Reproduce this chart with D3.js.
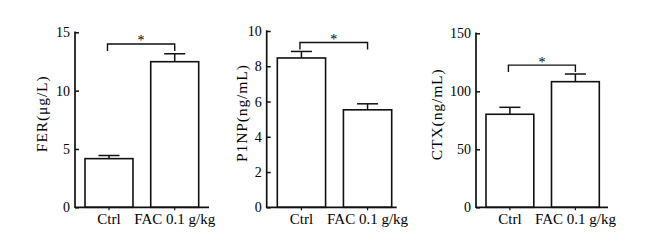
<!DOCTYPE html>
<html>
<head>
<meta charset="utf-8">
<script src="https://cdn.jsdelivr.net/npm/d3@7"></script>
<style>
  html, body { margin: 0; padding: 0; background: #fff; }
  svg { display: block; }
  text { font-family: "Liberation Serif", "DejaVu Serif", serif; fill: #000; }
</style>
</head>
<body>
<svg id="chart" width="662" height="241"></svg>
<script>
// ---- data ----
const categories = ["Ctrl", "FAC 0.1 g/kg"];
const ferMean  = [4.17, 12.48];
const ferErr   = [0.27, 0.68];
const p1npMean = [8.47, 5.53];
const p1npErr  = [0.37, 0.34];
const ctxMean  = [80.2, 108.3];
const ctxErr   = [6.0, 6.6];
const ferTicks  = [0, 5, 10, 15];
const p1npTicks = [0, 2, 4, 6, 8, 10];
const ctxTicks  = [0, 50, 100, 150];
const yLabels = ["FER(μg/L)", "P1NP(ng/mL)", "CTX(ng/mL)"];
const sigLevel = [14.0, 9.35, 122.6];
const sigMark = ["*", "*", "*"];

// ---- layout ----
const panels = [
  { mean: ferMean,  err: ferErr,  ticks: ferTicks,  max: 15,  label: yLabels[0], sig: sigLevel[0], mark: sigMark[0],
    axisX: 75,  axisEnd: 209, barRange: [85, 198.7],  yTop: 32.3, labelX: 47 },
  { mean: p1npMean, err: p1npErr, ticks: p1npTicks, max: 10,  label: yLabels[1], sig: sigLevel[1], mark: sigMark[1],
    axisX: 266.7, axisEnd: 396.7, barRange: [277.3, 391.7], yTop: 31, labelX: 246.5 },
  { mean: ctxMean,  err: ctxErr,  ticks: ctxTicks,  max: 150, label: yLabels[2], sig: sigLevel[2], mark: sigMark[2],
    axisX: 476, axisEnd: 608, barRange: [486, 599.3], yTop: 33.3, labelX: 441.5 }
];
const yBottom = 207.3;

const svg = d3.select("#chart");

panels.forEach(p => {
  const g = svg.append("g");
  const x = d3.scaleBand().domain(categories).range(p.barRange).paddingInner(0.27).paddingOuter(0);
  const y = d3.scaleLinear().domain([0, p.max]).range([yBottom, p.yTop]);

  // bars
  g.selectAll("rect.bar").data(categories).enter().append("rect")
    .attr("x", d => x(d))
    .attr("y", (d, i) => y(p.mean[i]))
    .attr("width", x.bandwidth())
    .attr("height", (d, i) => yBottom - y(p.mean[i]))
    .attr("fill", "#fff")
    .attr("stroke", "#111")
    .attr("stroke-width", 1.6);

  // error bars (upper only)
  const capW = 21;
  categories.forEach((c, i) => {
    const cx = x(c) + x.bandwidth() / 2;
    g.append("line")
      .attr("x1", cx).attr("x2", cx)
      .attr("y1", y(p.mean[i])).attr("y2", y(p.mean[i] + p.err[i]))
      .attr("stroke", "#111").attr("stroke-width", 1.5);
    g.append("line")
      .attr("x1", cx - capW / 2).attr("x2", cx + capW / 2)
      .attr("y1", y(p.mean[i] + p.err[i])).attr("y2", y(p.mean[i] + p.err[i]))
      .attr("stroke", "#111").attr("stroke-width", 1.5);
  });

  // y axis
  const yAxis = d3.axisLeft(y).tickValues(p.ticks).tickSizeInner(-4).tickSizeOuter(0).tickPadding(5);
  const ya = g.append("g").attr("transform", `translate(${p.axisX},0)`).call(yAxis);
  ya.select(".domain").remove();
  ya.selectAll(".tick line").attr("stroke", "#111").attr("stroke-width", 1.5);
  ya.selectAll(".tick text").attr("font-size", 14)
    .attr("font-family", "Liberation Serif, DejaVu Serif, serif").attr("fill", "#000");

  // x axis (ticks + labels)
  const xAxis = d3.axisBottom(x).tickSizeInner(3).tickSizeOuter(0).tickPadding(3);
  const xa = g.append("g").attr("transform", `translate(0,${yBottom})`).call(xAxis);
  xa.select(".domain").remove();
  xa.selectAll(".tick line").attr("stroke", "#111").attr("stroke-width", 1.2);
  xa.selectAll(".tick text").attr("font-size", 15)
    .attr("font-family", "Liberation Serif, DejaVu Serif, serif").attr("fill", "#000");

  // axis lines
  g.append("line").attr("x1", p.axisX).attr("x2", p.axisX).attr("y1", p.yTop - 0.8).attr("y2", yBottom + 0.8)
    .attr("stroke", "#111").attr("stroke-width", 1.7);
  g.append("line").attr("x1", p.axisX).attr("x2", p.axisEnd).attr("y1", yBottom).attr("y2", yBottom)
    .attr("stroke", "#111").attr("stroke-width", 1.7);

  // y label
  const midY = (p.yTop + yBottom) / 2 - 6;
  g.append("text")
    .attr("transform", `translate(${p.labelX},${midY}) rotate(-90)`)
    .attr("text-anchor", "middle")
    .attr("font-size", 15.5)
    .attr("letter-spacing", 0.9)
    .text(p.label);

  // significance bracket
  const x1 = x(categories[0]) + x.bandwidth() / 2 - 1.5;
  const x2 = x(categories[1]) + x.bandwidth() / 2;
  const by = y(p.sig);
  g.append("path")
    .attr("d", `M${x1},${by + 7}V${by}H${x2}V${by + 7}`)
    .attr("fill", "none").attr("stroke", "#111").attr("stroke-width", 1.4);
  g.append("text")
    .attr("x", (x1 + x2) / 2).attr("y", by + 1.5)
    .attr("text-anchor", "middle").attr("font-size", 14)
    .attr("fill", "#000")
    .text(p.mark);
});
</script>
</body>
</html>
